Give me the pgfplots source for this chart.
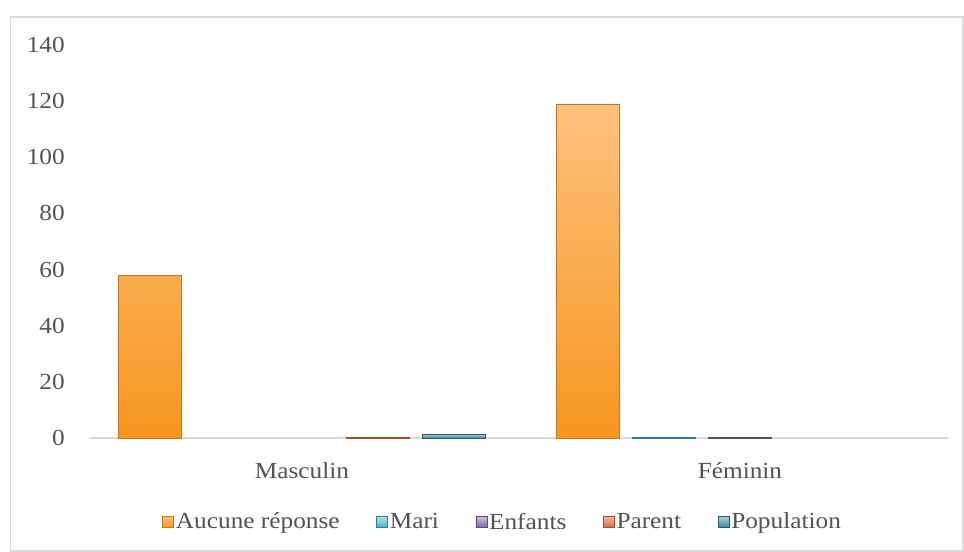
\documentclass[border=0pt]{standalone}
\usepackage{fontspec}
\setmainfont{Liberation Serif}[FakeStretch=1.1]
\usepackage{pgfplots}
\pgfplotsset{compat=1.18}
\definecolor{txt}{HTML}{525252}
\definecolor{frm}{HTML}{D9D9D9}
\definecolor{aucT}{HTML}{FDC27E}
\definecolor{aucB}{HTML}{F7961F}
\definecolor{aucD}{HTML}{C8761A}
\definecolor{mariT}{HTML}{B5E3EF}
\definecolor{mariB}{HTML}{4BACC6}
\definecolor{mariD}{HTML}{2E7F96}
\definecolor{enfT}{HTML}{CDBFE0}
\definecolor{enfB}{HTML}{8064A2}
\definecolor{enfD}{HTML}{5D4880}
\definecolor{parT}{HTML}{F6B9A0}
\definecolor{parB}{HTML}{DB6A45}
\definecolor{parD}{HTML}{A84C2E}
\definecolor{popT}{HTML}{A9D3E0}
\definecolor{popB}{HTML}{3C8499}
\definecolor{popD}{HTML}{245E6E}
\newcommand{\ff}{\fontsize{17.25pt}{20pt}\selectfont}
\begin{document}
\begin{tikzpicture}[x=0.75pt,y=0.75pt]
\useasboundingbox (0,0) rectangle (964,552);
\draw[frm, line width=1.2pt] (10.5,535) rectangle (963.2,0.8);
\begin{axis}[
  at={(67.5pt,85.5pt)}, anchor=south west,
  scale only axis, width=643.5pt, height=294.75pt,
  ybar=9.75pt, bar width=47.25pt,
  xmin=-0.484, xmax=1.475, ymin=0, ymax=140,
  xtick={0,1}, xticklabels={Masculin, Féminin},
  ytick={0,20,...,140},
  axis line style={draw=none},
  major tick length=0pt,
  extra y ticks={0}, extra y tick labels={},
  extra y tick style={grid=major, major grid style={draw=frm, line width=1.5pt}},
  /pgf/number format/assume math mode=true,
  tick label style={font=\ff, text=txt},
  yticklabel style={anchor=east, inner sep=0pt, xshift=-18.75pt},
  xticklabel style={anchor=north, inner sep=0pt, yshift=-18pt},
  legend style={at={(0.481,-0.2137)}, anchor=center, draw=none, font=\ff, text=txt,
    legend columns=-1, /tikz/every even column/.append style={column sep=26pt},
    nodes={inner sep=1.5pt}},
  legend image code/.code={\draw[#1, line width=0.4pt] (0pt,-4.2pt) rectangle (8.2pt,4.2pt);},
  clip=false,
]
\addplot[draw=aucD, top color=aucT, bottom color=aucB, line width=0.5pt] coordinates {(0,58) (1,119)};
\addplot[draw=mariD, top color=mariT, bottom color=mariB, line width=0.5pt] coordinates {(1,0.3)};
\addplot[draw=enfD, top color=enfT, bottom color=enfB, line width=0.5pt] coordinates {(1,0.3)};
\addplot[draw=parD, top color=parT, bottom color=parB, line width=0.5pt] coordinates {(0,0.3)};
\addplot[draw=popD, top color=popT, bottom color=popB, line width=0.5pt] coordinates {(0,1.4)};
\legend{Aucune réponse, Mari, Enfants, Parent, Population}
\end{axis}
\end{tikzpicture}
\end{document}
